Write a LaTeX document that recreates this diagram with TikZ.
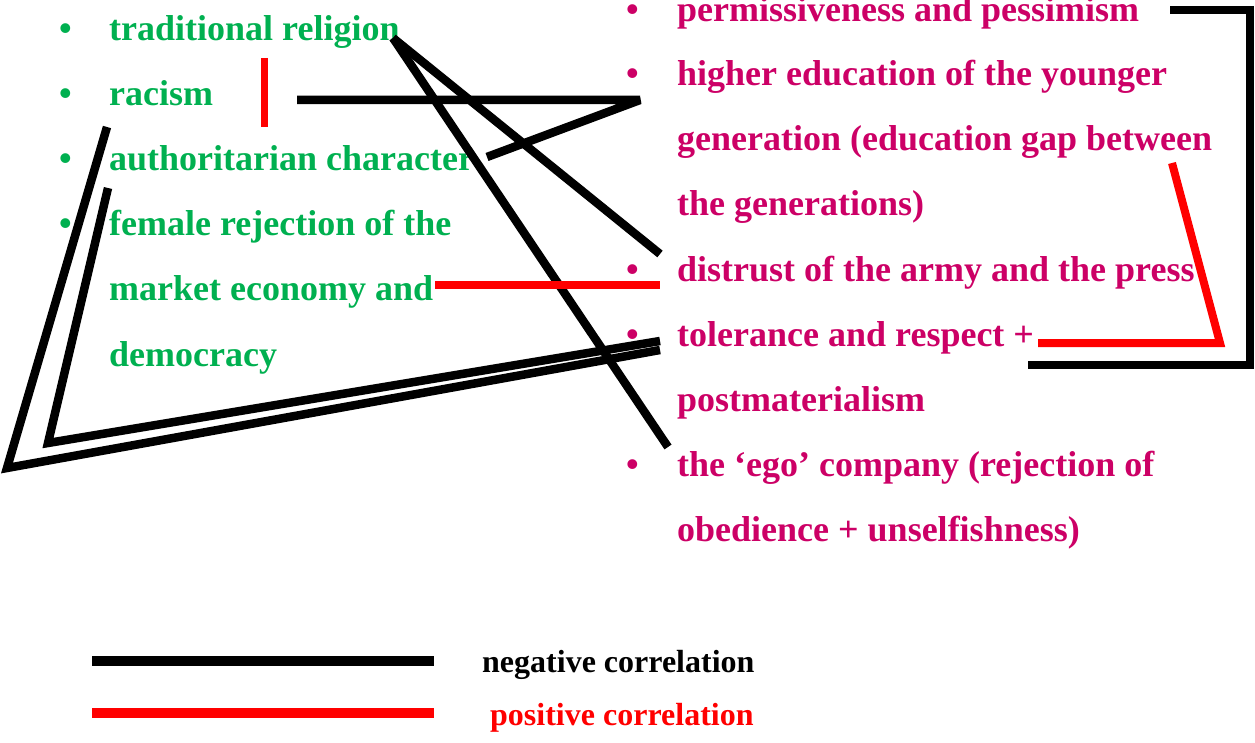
\documentclass[tikz,border=0pt]{standalone}
\usepackage{fontspec}
\setmainfont{Liberation Serif}
\definecolor{lgreen}{RGB}{0,176,80}
\definecolor{rmag}{RGB}{204,0,102}
\definecolor{pred}{RGB}{255,0,0}
\tikzset{
  lt/.style={anchor=base west, inner sep=0pt, text=lgreen, font=\bfseries\fontsize{36}{36}\selectfont},
  rt/.style={anchor=base west, inner sep=0pt, text=rmag, font=\bfseries\fontsize{36}{36}\selectfont},
  negline/.style={draw=black, line width=8.5pt, line join=miter},
  posline/.style={draw=pred, line width=8pt, line join=miter},
  legtext/.style={anchor=base west, inner sep=0pt, font=\bfseries\fontsize{32}{32}\selectfont}
}
\begin{document}
\begin{tikzpicture}[x=1pt,y=-1pt]
\useasboundingbox (0,0) rectangle (1255,743);
% left column
\foreach \yy/\nm in {41/lb1,106/lb2,171/lb3,236/lb4}{
  \node[lt] (\nm) at (59,\yy) {\textbullet};
}
\node[lt] (l1) at (109,41) {traditional religion};
\node[lt] (l2) at (109,106) {racism};
\node[lt] (l3) at (109,171) {authoritarian character};
\node[lt] (l4) at (109,236) {female rejection of the};
\node[lt] (l5) at (109,301) {market economy and};
\node[lt] (l6) at (109,366) {democracy};
% right column
\foreach \yy/\nm in {22/rb1,86/rb2,281/rb3,346/rb4,476/rb5}{
  \node[rt] (\nm) at (626,\yy) {\textbullet};
}
\node[rt] (r1) at (677,22) {permissiveness and pessimism};
\node[rt] (r2) at (677,86) {higher education of the younger};
\node[rt] (r3) at (677,151) {generation (education gap between};
\node[rt] (r4) at (677,216) {the generations)};
\node[rt] (r5) at (677,281) {distrust of the army and the press};
\node[rt] (r6) at (677,346) {tolerance and respect +};
\node[rt] (r7) at (677,411) {postmaterialism};
\node[rt] (r8) at (677,476) {the ‘ego’ company (rejection of};
\node[rt] (r9) at (677,541) {obedience + unselfishness)};
% connector coordinates
\coordinate (a1) at (264,58);  \coordinate (a2) at (264,127);
\coordinate (b1) at (297,100); \coordinate (b2) at (640,100); \coordinate (b3) at (487,157);
\coordinate (c0) at (393,38);  \coordinate (c1) at (660,254); \coordinate (c2) at (668,447);
\coordinate (d1) at (435,285); \coordinate (d2) at (660,285);
\coordinate (e1) at (107,127); \coordinate (e2) at (7,468);   \coordinate (e3) at (660,350);
\coordinate (f1) at (108,188); \coordinate (f2) at (48,443);  \coordinate (f3) at (660,341);
\coordinate (g1) at (1170,10); \coordinate (g2) at (1250,10); \coordinate (g3) at (1250,365); \coordinate (g4) at (1028,365);
\coordinate (h1) at (1172,163); \coordinate (h2) at (1220,343); \coordinate (h3) at (1038,343);
% connectors
\draw[posline, line width=7pt] (a1) -- (a2);
\draw[negline, line join=bevel] (b1) -- (b2) -- (b3);
\draw[negline] (c0) -- (c1);
\draw[negline] (c0) -- (c2);
\draw[posline] (d1) -- (d2);
\draw[negline] (e1) -- (e2) -- (e3);
\draw[negline] (f1) -- (f2) -- (f3);
\draw[negline] (g1) -- (g2) -- (g3) -- (g4);
\draw[posline] (h1) -- (h2) -- (h3);
% legend
\coordinate (k1) at (92,661); \coordinate (k2) at (434,661);
\coordinate (m1) at (92,713); \coordinate (m2) at (434,713);
\draw[negline, line width=10pt] (k1) -- (k2);
\draw[posline, line width=10pt] (m1) -- (m2);
\node[legtext, text=black] (negt) at (482,672) {negative correlation};
\node[legtext, text=pred] (post) at (490,725) {positive correlation};
\end{tikzpicture}
\end{document}
